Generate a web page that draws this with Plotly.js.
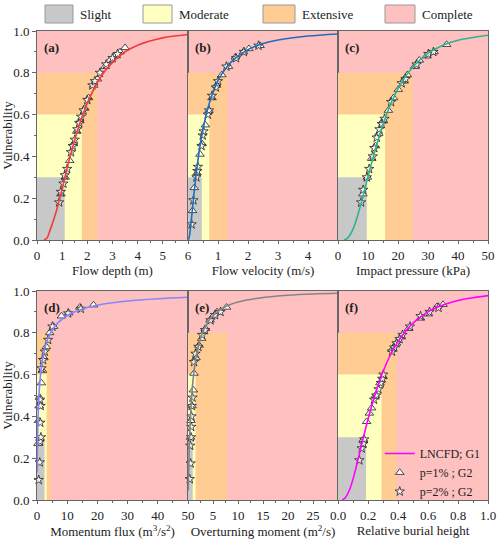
<!DOCTYPE html>
<html>
<head>
<meta charset="utf-8">
<script src="https://cdn.plot.ly/plotly-3.0.1.min.js"></script>
<style>
  html, body { margin: 0; padding: 0; background: #fff; }
  #chart { width: 500px; height: 543px; }
</style>
</head>
<body>
<div id="chart"></div>
<script>
// ---- Damage-state colours and vulnerability levels ----
const stateNames = ['Slight', 'Moderate', 'Extensive', 'Complete'];
const stateColors = ['#c8c8c8', '#ffffc0', '#ffcc94', '#ffc0c0'];
const stateLevels = [0.3, 0.6, 0.8];

// ---- Panel (a): flow depth ----
const curveA_x = [0.28, 0.4, 0.5, 0.75, 1.0, 1.25, 1.5, 1.75, 2.0, 2.5, 3.0, 3.5, 4.0, 5.0, 6.0];
const curveA_y = [0.0, 0.01, 0.04, 0.13, 0.245, 0.37, 0.48, 0.575, 0.655, 0.775, 0.85, 0.9, 0.932, 0.967, 0.983];
const triA_x = [0.95, 1.12, 1.3, 1.45, 1.58, 1.7, 1.9, 2.05, 2.25, 2.4, 2.7, 2.9, 3.1, 3.3, 3.5];
const triA_y = [0.22, 0.3, 0.38, 0.46, 0.52, 0.57, 0.63, 0.68, 0.74, 0.77, 0.83, 0.86, 0.88, 0.9, 0.92];
const starA_x = [0.88, 0.95, 1.05, 1.1, 1.2, 1.35, 1.42, 1.5, 1.6, 1.68, 1.75, 1.85, 2.0, 2.2, 2.3, 2.5, 2.75, 3.0, 3.2];
const starA_y = [0.18, 0.23, 0.27, 0.31, 0.34, 0.42, 0.45, 0.48, 0.53, 0.56, 0.59, 0.62, 0.67, 0.74, 0.76, 0.8, 0.84, 0.87, 0.89];
const zonesA = [1.1, 1.78, 2.4];

// ---- Panel (b): flow velocity ----
const curveB_x = [0.02, 0.05, 0.1, 0.15, 0.2, 0.3, 0.4, 0.5, 0.65, 0.8, 1.0, 1.25, 1.5, 2.0, 2.5, 3.0, 4.0, 5.0];
const curveB_y = [0.002, 0.021, 0.081, 0.152, 0.222, 0.348, 0.449, 0.53, 0.624, 0.694, 0.762, 0.82, 0.861, 0.911, 0.94, 0.957, 0.976, 0.986];
const triB_x = [0.15, 0.21, 0.3, 0.4, 0.47, 0.58, 0.7, 0.8, 0.95, 1.13, 1.35, 1.58, 1.85, 2.03, 2.4];
const triB_y = [0.14, 0.25, 0.32, 0.41, 0.46, 0.55, 0.62, 0.68, 0.74, 0.79, 0.83, 0.875, 0.9, 0.915, 0.93];
const starB_x = [0.12, 0.18, 0.28, 0.31, 0.33, 0.45, 0.49, 0.52, 0.66, 0.7, 0.8, 0.93, 1.0, 1.28, 1.6, 1.86, 2.35];
const starB_y = [0.075, 0.19, 0.3, 0.33, 0.35, 0.45, 0.5, 0.52, 0.6, 0.62, 0.69, 0.73, 0.76, 0.83, 0.87, 0.9, 0.93];
const zonesB = [0.46, 0.71, 1.32];

// ---- Panel (c): impact pressure ----
const curveC_x = [2, 3, 4, 5, 6, 8, 10, 12, 15, 18, 21, 25, 30, 35, 40, 50];
const curveC_y = [0.001, 0.007, 0.024, 0.052, 0.091, 0.191, 0.303, 0.411, 0.553, 0.665, 0.75, 0.829, 0.893, 0.932, 0.956, 0.98];
const triC_x = [8.3, 9.8, 11.2, 12.5, 13.6, 15, 16.8, 18.5, 20.1, 21.8, 23.1, 25.5, 27.1, 29.5, 32, 36.2];
const triC_y = [0.22, 0.3, 0.39, 0.45, 0.51, 0.57, 0.62, 0.68, 0.72, 0.76, 0.79, 0.83, 0.86, 0.88, 0.9, 0.935];
const starC_x = [7.7, 8.4, 9.6, 10.4, 11.6, 12.1, 12.9, 13.8, 14.6, 15.5, 17.7, 21.2, 22.5, 26.2, 30.1, 31.8];
const starC_y = [0.18, 0.24, 0.3, 0.34, 0.4, 0.44, 0.49, 0.53, 0.555, 0.58, 0.66, 0.75, 0.77, 0.84, 0.89, 0.9];
const zonesC = [9.6, 15.7, 24.8];

// ---- Panel (d): momentum flux ----
const curveD_x = [0.05, 0.1, 0.2, 0.3, 0.5, 0.75, 1, 1.5, 2, 3, 4, 5, 7, 10, 15, 20, 30, 40, 50];
const curveD_y = [0.132, 0.208, 0.304, 0.368, 0.455, 0.525, 0.574, 0.642, 0.687, 0.747, 0.785, 0.812, 0.849, 0.883, 0.914, 0.932, 0.952, 0.963, 0.97];
const triD_x = [0.3, 0.5, 0.7, 0.9, 1.45, 1.8, 2.3, 3.1, 4.2, 5.5, 8.1, 10.5, 14.2, 18.7];
const triD_y = [0.27, 0.38, 0.45, 0.49, 0.56, 0.62, 0.68, 0.733, 0.8, 0.83, 0.88, 0.895, 0.922, 0.933];
const starD_x = [0.57, 0.9, 1.0, 1.3, 1.1, 1.2, 1.0, 1.5, 2.0, 2.57, 3.67, 5.1, 10.3, 14.5];
const starD_y = [0.096, 0.18, 0.28, 0.3, 0.37, 0.45, 0.48, 0.63, 0.67, 0.71, 0.766, 0.83, 0.893, 0.915];
const zonesD = [2.5, 3.2, 4.7];

// ---- Panel (e): overturning moment ----
const curveE_x = [0.05, 0.1, 0.2, 0.35, 0.5, 0.75, 1, 1.5, 2, 3, 4, 5, 7, 10, 15, 20, 25, 30];
const curveE_y = [0.045, 0.104, 0.204, 0.317, 0.4, 0.5, 0.571, 0.668, 0.73, 0.807, 0.852, 0.882, 0.919, 0.947, 0.969, 0.98, 0.986, 0.989];
const triE_x = [0.5, 0.6, 0.8, 1.07, 1.2, 1.6, 2.2, 2.73, 3.5, 4.4, 5.8, 7.7];
const triE_y = [0.3, 0.38, 0.45, 0.526, 0.606, 0.68, 0.74, 0.773, 0.82, 0.861, 0.9, 0.922];
const starE_x = [0.35, 0.53, 0.45, 0.6, 0.65, 0.7, 0.75, 0.9, 1.2, 1.5, 2.07, 2.8, 3.4, 4.5, 5.4, 6.5];
const starE_y = [0.1, 0.175, 0.26, 0.3, 0.35, 0.4, 0.45, 0.49, 0.66, 0.7, 0.733, 0.79, 0.813, 0.86, 0.885, 0.9];
const zonesE = [0.94, 1.5, 7.8];

// ---- Panel (f): relative burial height ----
const curveF_x = [0.03, 0.05, 0.08, 0.1, 0.13, 0.16, 0.2, 0.25, 0.3, 0.35, 0.4, 0.5, 0.6, 0.7, 0.8, 0.9, 1.0];
const curveF_y = [0.001, 0.012, 0.055, 0.1, 0.183, 0.271, 0.386, 0.511, 0.614, 0.695, 0.758, 0.846, 0.9, 0.933, 0.955, 0.968, 0.978];
const triF_x = [0.17, 0.191, 0.209, 0.224, 0.25, 0.28, 0.3, 0.36, 0.39, 0.42, 0.47, 0.55, 0.6, 0.66, 0.7];
const triF_y = [0.29, 0.375, 0.415, 0.44, 0.5, 0.56, 0.59, 0.72, 0.75, 0.78, 0.82, 0.87, 0.89, 0.925, 0.935];
const starF_x = [0.142, 0.158, 0.169, 0.175, 0.24, 0.255, 0.27, 0.285, 0.295, 0.302, 0.36, 0.375, 0.39, 0.41, 0.43, 0.48, 0.55, 0.61, 0.67];
const starF_y = [0.19, 0.247, 0.27, 0.29, 0.48, 0.5, 0.53, 0.56, 0.58, 0.6, 0.71, 0.73, 0.75, 0.77, 0.79, 0.83, 0.88, 0.9, 0.92];
const zonesF = [0.187, 0.29, 0.39];

// ---- Axis titles and tick labels (shared edges carry one label only) ----
const xTitles = ['Flow depth (m)', 'Flow velocity (m/s)', 'Impact pressure (kPa)',
  'Momentum flux (m<sup>3</sup>/s<sup>2</sup>)', 'Overturning moment (m<sup>2</sup>/s)', 'Relative burial height'];
const panelTags = ['(a)', '(b)', '(c)', '(d)', '(e)', '(f)'];
const tickValsA = [0, 1, 2, 3, 4, 5, 6];
const tickTextA = ['0', '1', '2', '3', '4', '5', '6'];
const tickValsB = [1, 2, 3, 4];
const tickTextB = ['1', '2', '3', '4'];
const tickValsC = [0, 10, 20, 30, 40, 50];
const tickTextC = ['0', '10', '20', '30', '40', '50'];
const tickValsD = [0, 10, 20, 30, 40, 50];
const tickTextD = ['0', '10', '20', '30', '40', '50'];
const tickValsE = [5, 10, 15, 20, 25];
const tickTextE = ['5', '10', '15', '20', '25'];
const tickValsF = [0, 0.2, 0.4, 0.6, 0.8, 1.0];
const tickTextF = ['0.0', '0.2', '0.4', '0.6', '0.8', '1.0'];
const curveColors = ['#f23b3b', '#1f6fb8', '#2fb38c', '#8585ff', '#858585', '#ff00ff'];

const panels = [
  {cx: curveA_x, cy: curveA_y, tx: triA_x, ty: triA_y, sx: starA_x, sy: starA_y, zones: zonesA, range: [0, 6], tv: tickValsA, tt: tickTextA, minor: 0.5},
  {cx: curveB_x, cy: curveB_y, tx: triB_x, ty: triB_y, sx: starB_x, sy: starB_y, zones: zonesB, range: [0, 5], tv: tickValsB, tt: tickTextB, minor: 0.5},
  {cx: curveC_x, cy: curveC_y, tx: triC_x, ty: triC_y, sx: starC_x, sy: starC_y, zones: zonesC, range: [0, 50], tv: tickValsC, tt: tickTextC, minor: 5},
  {cx: curveD_x, cy: curveD_y, tx: triD_x, ty: triD_y, sx: starD_x, sy: starD_y, zones: zonesD, range: [0, 50], tv: tickValsD, tt: tickTextD, minor: 5},
  {cx: curveE_x, cy: curveE_y, tx: triE_x, ty: triE_y, sx: starE_x, sy: starE_y, zones: zonesE, range: [0, 30], tv: tickValsE, tt: tickTextE, minor: 2.5},
  {cx: curveF_x, cy: curveF_y, tx: triF_x, ty: triF_y, sx: starF_x, sy: starF_y, zones: zonesF, range: [0, 1], tv: tickValsF, tt: tickTextF, minor: 0.1}
];

// ---- Page geometry (pixels) used for domains ----
const W = 500, H = 543;
const M = {l: 37, r: 12, t: 31, b: 43};
const plotW = W - M.l - M.r, plotH = H - M.t - M.b;
const colEdges = [0, 151 / plotW, 301 / plotW, 1];
const rowDomains = [[(500 - 240) / plotH, 1], [0, (500 - 291) / plotH]];

const FONT = "'Liberation Serif', 'Times New Roman', Times, serif";
const AXIS_COLOR = '#666666';
const TEXT_COLOR = '#222222';

const traces = [];
const shapes = [];
const annotations = [];
const layout = {
  width: W, height: H,
  margin: M,
  paper_bgcolor: '#ffffff',
  plot_bgcolor: stateColors[3],
  font: {family: FONT, size: 13, color: TEXT_COLOR},
  showlegend: true,
  legend: {
    x: 0.995, y: (500 - 439) / plotH, xanchor: 'right', yanchor: 'top',
    bgcolor: 'rgba(0,0,0,0)', borderwidth: 0,
    font: {family: FONT, size: 12, color: TEXT_COLOR},
    tracegroupgap: 0, itemwidth: 30
  }
};

panels.forEach((p, i) => {
  const n = i + 1;
  const xa = 'x' + (n === 1 ? '' : n);
  const ya = 'y' + (n === 1 ? '' : n);
  const col = i % 3, row = Math.floor(i / 3);
  const isLeft = col === 0;
  const isLegendPanel = i === 5;

  layout['xaxis' + (n === 1 ? '' : n)] = {
    domain: [colEdges[col], colEdges[col + 1]],
    anchor: ya,
    range: p.range,
    tickmode: 'array', tickvals: p.tv, ticktext: p.tt,
    ticks: 'outside', ticklen: 3, tickcolor: AXIS_COLOR,
    minor: {tickmode: 'linear', tick0: 0, dtick: p.minor, ticks: 'outside', ticklen: 2, tickcolor: AXIS_COLOR},
    showline: true, linecolor: AXIS_COLOR, linewidth: 1, mirror: true,
    showgrid: false, zeroline: false,
    tickfont: {family: FONT, size: 13, color: TEXT_COLOR},
    title: {text: xTitles[i], font: {family: FONT, size: 13, color: TEXT_COLOR}, standoff: 3}
  };
  const yAxis = {
    domain: rowDomains[row],
    anchor: xa,
    range: [0, 1],
    tickmode: 'linear', tick0: 0, dtick: 0.2, tickformat: '.1f',
    ticks: isLeft ? 'outside' : '', ticklen: 4, tickcolor: AXIS_COLOR,
    showticklabels: isLeft,
    showline: true, linecolor: AXIS_COLOR, linewidth: 1, mirror: true,
    showgrid: false, zeroline: false,
    tickfont: {family: FONT, size: 13, color: TEXT_COLOR}
  };
  if (isLeft) {
    yAxis.minor = {tickmode: 'linear', tick0: 0, dtick: 0.1, ticks: 'outside', ticklen: 2, tickcolor: AXIS_COLOR};
    yAxis.title = {text: 'Vulnerability', font: {family: FONT, size: 13, color: TEXT_COLOR}, standoff: 4};
  }
  layout['yaxis' + (n === 1 ? '' : n)] = yAxis;

  // damage-state zones: extensive, moderate, slight stacked from the origin
  for (let k = 2; k >= 0; k--) {
    shapes.push({
      type: 'rect', xref: xa, yref: ya, layer: 'below',
      x0: 0, x1: p.zones[k], y0: 0, y1: stateLevels[k],
      fillcolor: stateColors[k], line: {width: 0}
    });
  }

  traces.push({
    type: 'scatter', mode: 'markers', x: p.tx, y: p.ty, xaxis: xa, yaxis: ya,
    name: 'p=1% ; G2', showlegend: isLegendPanel, legendrank: 2,
    marker: {symbol: 'triangle-up', size: 7.5, color: '#ffffff', line: {color: TEXT_COLOR, width: 0.8}},
    cliponaxis: false
  });
  traces.push({
    type: 'scatter', mode: 'markers', x: p.sx, y: p.sy, xaxis: xa, yaxis: ya,
    name: 'p=2% ; G2', showlegend: isLegendPanel, legendrank: 3,
    marker: {symbol: 'star', size: 7, color: '#f4f4f4', line: {color: TEXT_COLOR, width: 0.8}},
    cliponaxis: false
  });
  traces.push({
    type: 'scatter', mode: 'lines', x: p.cx, y: p.cy, xaxis: xa, yaxis: ya,
    name: 'LNCFD; G1', showlegend: isLegendPanel, legendrank: 1,
    line: {color: curveColors[i], width: 1.6, shape: 'spline', smoothing: 0.8}
  });

  annotations.push({
    xref: xa + ' domain', yref: ya + ' domain', x: 0.03, y: 0.965,
    xanchor: 'left', yanchor: 'top', showarrow: false,
    text: panelTags[i],
    font: {family: FONT, size: 13, color: TEXT_COLOR, weight: 'bold'}
  });
});

// ---- Damage-state key above the panels ----
const keyBoxes = [[45, 73], [143, 172], [263, 295], [385, 415]];
const keyTop = 5, keyBottom = 23;
const px2x = v => (v - M.l) / plotW;
const px2y = v => (500 - v) / plotH;
keyBoxes.forEach((b, k) => {
  shapes.push({
    type: 'rect', xref: 'paper', yref: 'paper',
    x0: px2x(b[0]), x1: px2x(b[1]), y0: px2y(keyBottom), y1: px2y(keyTop),
    fillcolor: stateColors[k], line: {color: '#999', width: 1}
  });
  annotations.push({
    xref: 'paper', yref: 'paper', x: px2x(b[1] + 5), y: px2y((keyTop + keyBottom) / 2),
    xanchor: 'left', yanchor: 'middle', showarrow: false,
    text: stateNames[k], font: {family: FONT, size: 13, color: TEXT_COLOR}
  });
});

layout.shapes = shapes;
layout.annotations = annotations;

Plotly.newPlot('chart', traces, layout, {staticPlot: true, displayModeBar: false});
</script>
</body>
</html>
